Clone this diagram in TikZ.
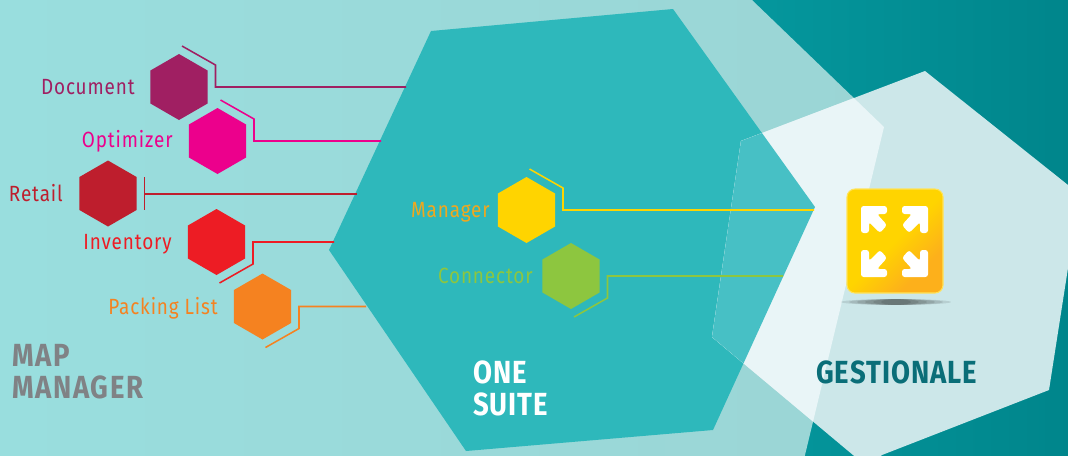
\documentclass[tikz,border=0pt]{standalone}
\usepackage{fontspec}
\setmainfont{Fira Sans}[FakeStretch=0.86]
\usetikzlibrary{shapes.geometric,positioning,calc}
\definecolor{deepleft}{HTML}{05979D}
\definecolor{deepright}{HTML}{00858B}
\definecolor{paleleft}{HTML}{99DEDE}
\definecolor{paleright}{HTML}{9BD5D5}
\definecolor{midteal}{HTML}{2EB8BB}
\definecolor{overteal}{HTML}{47C0C5}
\definecolor{whitepale}{HTML}{E9F5F7}
\definecolor{whitedeep}{HTML}{CCE7E9}
\definecolor{mapgrey}{HTML}{808285}
\definecolor{gestteal}{HTML}{0A6E78}
\definecolor{docpurple}{HTML}{A01F62}
\definecolor{optpink}{HTML}{EC008C}
\definecolor{retailred}{HTML}{BE1E2D}
\definecolor{invred}{HTML}{ED1C24}
\definecolor{packorange}{HTML}{F58220}
\definecolor{mangold}{HTML}{FFD400}
\definecolor{mantext}{HTML}{F0A81E}
\definecolor{conngreen}{HTML}{8DC63F}
\definecolor{iconyellow}{HTML}{FFD400}
\definecolor{iconorange}{HTML}{FDB01B}
\pgfdeclarehorizontalshading{iconshade}{100bp}{color(0bp)=(iconyellow); color(50bp)=(iconyellow); color(70bp)=(iconorange); color(100bp)=(iconorange)}
\tikzset{
  hexnode/.style={regular polygon,regular polygon sides=6,shape border rotate=30,minimum size=49.5pt,inner sep=0pt,fill=#1},
  hexlabel/.style={text=#1,font=\fontsize{16.5}{16.5}\selectfont\addfontfeature{LetterSpace=4},inner sep=0pt,anchor=base east},
  bigtitle/.style={font=\fontsize{24}{24}\selectfont\bfseries\addfontfeature{LetterSpace=#1},align=left,inner sep=0pt,anchor=base west},
  bracket/.style={draw=#1,line width=1.15pt}
}
\begin{document}
\begin{tikzpicture}[x=0.75pt,y=-0.75pt]
\useasboundingbox (0,0) rectangle (1068,455);
\def\whitehex{(925,71) -- (1068,185) -- (1068,268) -- (1049,390) -- (882,455) -- (878,458) -- (857,458) -- (853,455) -- (712,337) -- (741,141) -- cycle}
\def\palepoly{(-3,-3) -- (749,-3) -- (752,0) -- (884,127) -- (805,455) -- (804,458) -- (-3,458) -- cycle}
\def\suitehex{(431,31) -- (673,9) -- (815,207) -- (713,430) -- (466,451) -- (329,250) -- cycle}
% background layers
\fill[deepleft] (-3,-3) rectangle (750,458);
\shade[left color=deepleft,right color=deepright] (750,-3) rectangle (1071,458);
\shade[left color=paleleft,right color=paleright] \palepoly;
\fill[midteal] \suitehex;
% white hexagon, one fill for each layer below it
\fill[whitedeep] \whitehex;
\begin{scope}
  \clip \palepoly;
  \fill[whitepale] \whitehex;
\end{scope}
\begin{scope}
  \clip \suitehex;
  \fill[overteal] \whitehex;
\end{scope}
% hexagons with bracket
\foreach \name/\cx/\cy/\col/\endx/\updown in {
    document/179/87/docpurple/406/-1,
    optimizer/217.5/141/optpink/381/-1,
    inventory/216.5/242/invred/334/1,
    packing/262.5/306.5/packorange/366/1,
    manager/526.5/210/mangold/814/-1,
    connector/571/276/conngreen/783/1}{
  \node[hexnode=\col] (\name) at (\cx,\cy) {};
  \coordinate (\name-end) at (\endx,\cy);
  \draw[bracket=\col] ($(\name)+(3,41*\updown)$) -- ($(\name)+(36.5,22*\updown)$) -- ($(\name)+(36.5,0)$) -- (\name-end);
}
\node[hexlabel=docpurple] at (135,94) {Document};
\node[hexlabel=optpink] at (173,147) {Optimizer};
\node[hexlabel=invred] at (172,249) {Inventory};
\node[hexlabel=packorange] at (218,314) {Packing List};
\node[hexlabel=mantext] at (490,217) {Manager};
\node[hexlabel=conngreen] at (533,283) {Connector};
% retail has a plain bar
\node[hexnode=retailred] (retail) at (108,193.5) {};
\coordinate (retail-end) at (357,194);
\coordinate (retail-bar) at (144.5,194);
\draw[bracket=retailred] (144.5,177) -- (144.5,210);
\draw[bracket=retailred] (retail-bar) -- (retail-end);
\node[hexlabel=retailred] at (63,201) {Retail};
% titles
\node[bigtitle=5,text=mapgrey] (maptitle) at (12,366) {MAP};
\node[bigtitle=5,text=mapgrey] (mapsecond) at (12,398) {MANAGER};
\node[bigtitle=3,text=white] (onetitle) at (473,383) {ONE};
\node[bigtitle=3,text=white] (onesecond) at (473,415) {SUITE};
\node[bigtitle=3,text=gestteal] (gesttitle) at (816,383) {GESTIONALE};
% icon
\foreach \rx in {55,47,39,31,23,15}{
  \fill[black,opacity=.1] (896,302) ellipse (\rx pt*.75 and 2.2pt);
}
\shade[rounded corners=6pt,shading=iconshade,shading angle=-45] (847,189) rectangle (943,293);
\draw[rounded corners=6pt,draw=iconyellow!65!white,line width=.8pt] (847,189) rectangle (943,293);
\foreach \sx/\sy in {-1/-1,1/-1,-1/1,1/1}{
  \begin{scope}[shift={(894.5,241.5)},xscale=\sx,yscale=-\sy]
    \fill[white,rounded corners=2pt] (33.5,-35.5) -- (7.5,-35.5) -- (7.5,-27.5) -- (17.5,-27.5) -- (7.5,-16.5) -- (14.5,-8.5) -- (25.5,-19.5) -- (25.5,-8.5) -- (33.5,-8.5) -- cycle;
  \end{scope}
}
\end{tikzpicture}
\end{document}
